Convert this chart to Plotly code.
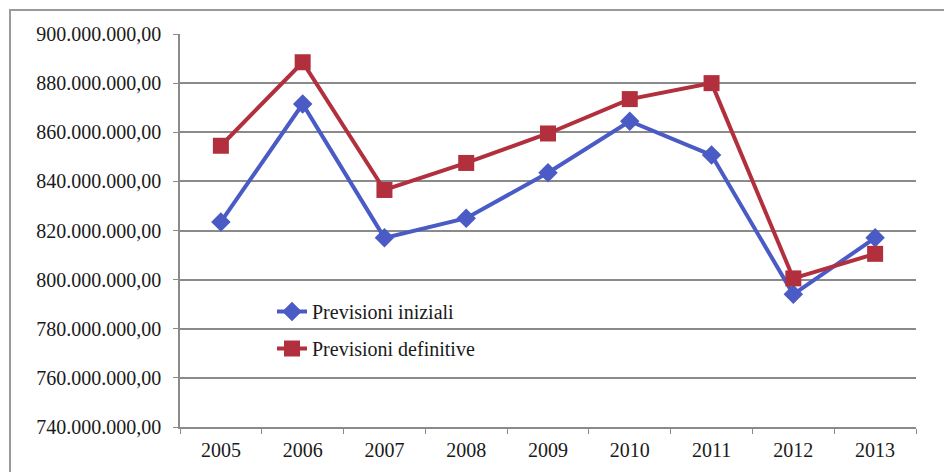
import plotly.graph_objects as go

years = ["2005", "2006", "2007", "2008", "2009", "2010", "2011", "2012", "2013"]
previsioni_iniziali = [823.5e6, 871.5e6, 817e6, 825e6, 843.5e6, 864.5e6, 850.7e6, 794e6, 817e6]
previsioni_definitive = [854.5e6, 888.5e6, 836.5e6, 847.5e6, 859.5e6, 873.5e6, 880e6, 800.5e6, 810.5e6]
y_ticks = [740e6, 760e6, 780e6, 800e6, 820e6, 840e6, 860e6, 880e6, 900e6]

W, H = 944, 472
L, R, T, B = 180, 28, 34, 45
pw, ph = W - L - R, H - T - B

BLUE = "#4A5BC6"
RED = "#B2303E"
GRID = "#8a8a8a"
FONT = "Liberation Serif"

fig = go.Figure()
fig.add_trace(go.Scatter(
    x=years, y=previsioni_iniziali, name="Previsioni iniziali", mode="lines+markers",
    line=dict(color=BLUE, width=4), legendgroup="a",
    marker=dict(symbol="diamond", size=15, color=BLUE),
))
fig.add_trace(go.Scatter(
    x=years, y=previsioni_definitive, name="Previsioni definitive", mode="lines+markers",
    line=dict(color=RED, width=4), legendgroup="b",
    marker=dict(symbol="square", size=16, color=RED),
))

# outer frame (left and top edges visible in the picture)
fig.add_shape(type="rect", xref="paper", yref="paper",
              x0=(10 - L) / pw, x1=(W + 10 - L) / pw,
              y0=-(H + 10 - T - ph) / ph, y1=1 + (T - 10) / ph,
              line=dict(color="#9a9a9a", width=2), layer="below")

fig.update_layout(
    width=W, height=H,
    margin=dict(l=L, r=R, t=T, b=B),
    paper_bgcolor="white", plot_bgcolor="white",
    separators=",.",
    font=dict(family=FONT, size=20, color="#1a1a1a"),
    showlegend=True,
    legend=dict(x=(272 - L) / pw, y=(427 - 292) / ph, xanchor="left", yanchor="top",
                bgcolor="rgba(0,0,0,0)", font=dict(size=20, family=FONT, color="#1a1a1a"),
                tracegroupgap=8, traceorder="grouped"),
    xaxis=dict(
        type="category", showgrid=False, showline=True, linecolor=GRID, linewidth=1.5,
        ticks="outside", tickson="boundaries", ticklen=5, tickcolor=GRID,
        tickfont=dict(size=20, family=FONT), range=[-0.5, 8.5], ticklabelstandoff=4,
    ),
    yaxis=dict(
        range=[740e6, 900e6], tickvals=y_ticks, tickformat=",.2f",
        showgrid=True, gridcolor=GRID, gridwidth=1.5,
        showline=True, linecolor=GRID, linewidth=1.5,
        ticks="outside", ticklen=5, tickcolor=GRID, ticklabelstandoff=8,
        tickfont=dict(size=20, family=FONT), zeroline=False,
    ),
)

fig.write_html("out.html")
